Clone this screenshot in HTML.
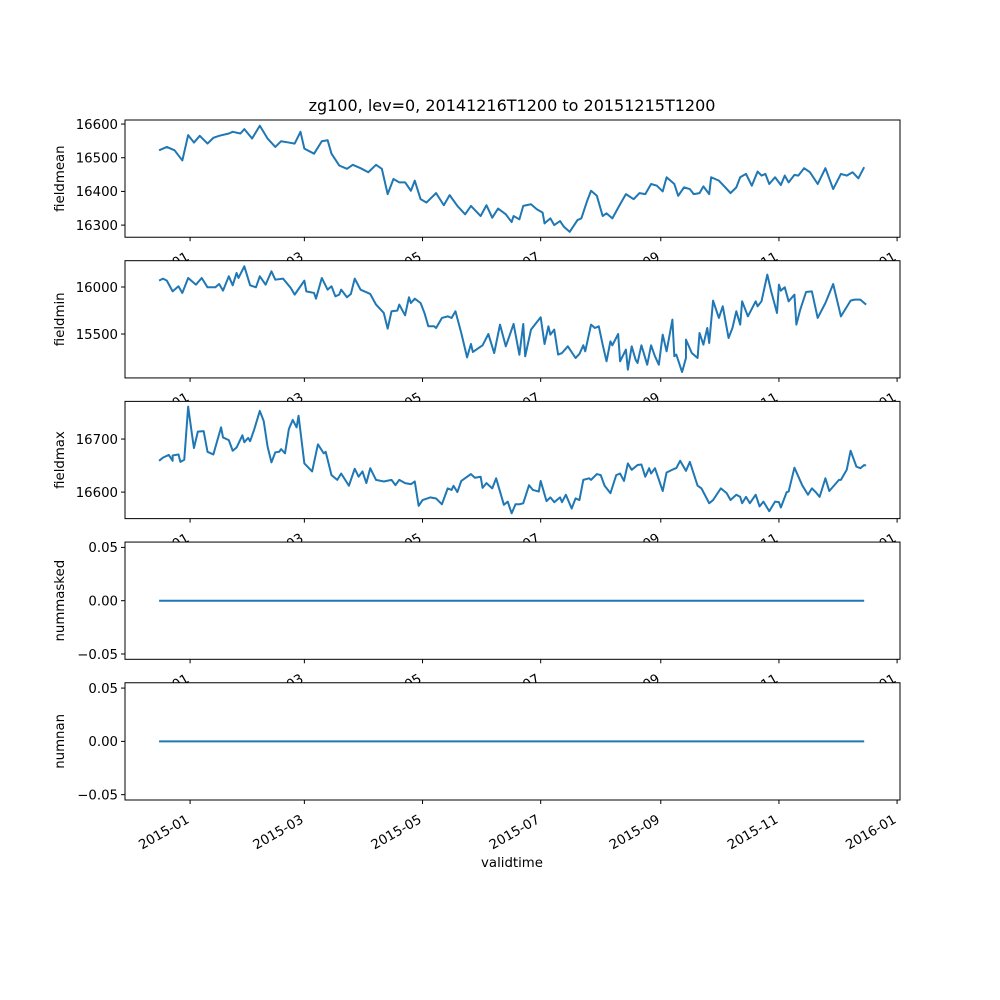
<!DOCTYPE html>
<html><head><meta charset="utf-8"><style>body{margin:0;background:#fff}svg{display:block}text{font-family:"DejaVu Sans","Liberation Sans",sans-serif;fill:#000}</style></head>
<body>
<svg id="chart" width="1000" height="1000" viewBox="0 0 1000 1000" xmlns="http://www.w3.org/2000/svg">
<rect width="1000" height="1000" fill="#fff"/>
<text x="512" y="111" font-size="16" text-anchor="middle">zg100, lev=0, 20141216T1200 to 20151215T1200</text>
<text x="512" y="867" font-size="13.3" text-anchor="middle">validtime</text>
</svg>
<script>
// x values are days relative to 2015-01-01
const meanDays=[-16,-12,-8,-4,-1,2,5,9,12,15,20,22,26,28,32,36,40,44,47,51,54,57,59,64,68,71,73,77,81,84,88,92,96,99,102,105,108,111,114,116,119,122,127,131,134,138,142,145,150,153,156,159,163,166,167,170,172,176,179,182,183,186,188,191,193,196,200,202,205,207,210,213,215,218,222,225,229,232,235,238,241,244,246,250,252,255,258,260,263,265,268,269,273,275,279,282,284,287,290,293,295,297,299,302,305,307,309,312,314,317,320,324,328,332,336,339,342,345,348];
const meanVals=[16522,16532,16522,16492,16567,16545,16565,16542,16559,16565,16572,16577,16572,16585,16557,16595,16557,16532,16549,16545,16542,16577,16527,16512,16549,16552,16512,16477,16467,16479,16469,16457,16479,16467,16392,16437,16427,16427,16402,16432,16377,16367,16395,16359,16389,16357,16332,16357,16327,16359,16322,16349,16332,16309,16327,16317,16357,16362,16347,16337,16305,16320,16300,16312,16295,16280,16315,16320,16372,16402,16387,16327,16335,16320,16362,16392,16377,16395,16392,16422,16417,16400,16442,16422,16387,16412,16407,16392,16395,16415,16392,16442,16432,16420,16395,16412,16442,16452,16417,16459,16447,16452,16422,16442,16419,16447,16427,16449,16447,16469,16457,16422,16469,16407,16452,16447,16457,16439,16472];
const minDays=[-16,-14,-12,-9,-6,-4,-1,3,6,9,13,15,17,20,22,24,25,28,31,34,36,39,42,44,48,52,54,59,60,64,65,68,71,73,75,77,78,81,83,85,88,93,96,100,102,104,107,108,111,113,114,116,119,121,123,126,127,130,133,135,137,140,143,145,146,149,151,154,157,160,163,167,170,172,173,176,181,183,185,186,188,190,192,195,199,201,203,204,207,209,211,213,215,217,218,221,222,225,226,228,230,231,233,236,238,240,242,244,246,249,250,251,254,256,256,259,262,263,265,267,268,270,273,275,278,280,282,284,285,288,292,293,295,298,300,303,304,305,307,309,312,313,315,318,321,324,328,332,336,341,343,346,349];
const minVals=[16068,16089,16068,15954,16008,15937,16096,16025,16096,15997,15997,16032,15961,16114,16018,16149,16096,16220,16018,15997,16114,16025,16167,16078,16089,15990,15919,16068,15954,15937,15876,16096,15972,16008,15901,15919,15972,15891,15926,16089,15972,15926,15813,15724,15557,15742,15749,15813,15699,15891,15830,15876,15830,15724,15582,15582,15564,15671,15688,15671,15742,15511,15252,15394,15309,15352,15380,15500,15298,15600,15369,15607,15280,15607,15263,15547,15678,15394,15582,15493,15547,15281,15298,15369,15245,15288,15380,15316,15600,15564,15582,15387,15210,15422,15380,15500,15210,15334,15121,15369,15227,15192,15380,15174,15380,15263,15174,15493,15316,15653,15263,15281,15096,15245,15440,15298,15245,15511,15387,15564,15405,15855,15671,15795,15458,15564,15742,15600,15848,15688,15848,15795,15848,16132,15954,15724,16025,15961,15997,15848,15919,15600,15759,15947,15954,15671,15830,16032,15688,15855,15866,15866,15813,15901];
const maxDays=[-16,-14,-11,-9,-9,-6,-5,-3,-1,1,2,4,7,9,12,16,17,20,22,24,27,28,30,31,33,36,38,40,42,44,46,47,49,51,53,55,56,59,63,66,69,70,73,76,78,82,85,87,89,91,93,96,100,104,106,108,111,114,116,118,120,124,127,130,133,135,136,138,140,145,147,150,151,153,156,158,162,164,166,168,170,172,175,177,180,181,184,186,188,191,192,194,197,199,201,203,206,207,210,212,214,217,220,222,224,226,228,231,233,235,237,238,240,244,246,250,251,253,256,258,262,264,268,270,274,277,279,282,284,285,287,289,292,294,296,299,302,304,305,308,309,312,316,319,321,323,325,328,330,335,336,339,341,344,346,348,349];
const maxVals=[16659,16665,16670,16659,16669,16671,16657,16661,16761,16708,16683,16714,16715,16676,16671,16722,16703,16698,16678,16684,16707,16694,16702,16696,16717,16753,16734,16686,16656,16675,16676,16681,16673,16719,16736,16722,16744,16654,16639,16690,16673,16676,16632,16623,16635,16612,16644,16629,16639,16617,16645,16623,16620,16623,16613,16623,16617,16615,16620,16574,16585,16590,16588,16577,16607,16604,16612,16600,16621,16634,16627,16629,16608,16617,16607,16626,16576,16582,16560,16577,16577,16579,16613,16604,16601,16621,16583,16590,16581,16590,16581,16595,16569,16588,16585,16623,16626,16623,16634,16632,16612,16598,16632,16635,16621,16654,16642,16651,16652,16629,16645,16635,16645,16602,16637,16644,16645,16659,16640,16657,16612,16607,16579,16585,16607,16598,16585,16595,16591,16579,16591,16579,16595,16573,16582,16564,16582,16581,16571,16600,16601,16646,16613,16595,16607,16600,16591,16626,16602,16623,16623,16642,16678,16648,16645,16651,16650];
const flatDays=[-16,348];
const flatVals=[0,0];
const tickDays=[0,59,120,181,243,304,365];
const tickLabels=["2015-01","2015-03","2015-05","2015-07","2015-09","2015-11","2016-01"];
const panelNames=["fieldmean","fieldmin","fieldmax","nummasked","numnan"];
const yLims=[[16264,16612],[15033,16280],[16550,16771],[-0.055,0.055],[-0.055,0.055]];
const yTicks=[[16300,16400,16500,16600],[15500,16000],[16600,16700],[-0.05,0,0.05],[-0.05,0,0.05]];
const yTickLabels=[["16300","16400","16500","16600"],["15500","16000"],["16600","16700"],["−0.05","0.00","0.05"],["−0.05","0.00","0.05"]];
const xLim=[-33.6,366.5];

const NS="http://www.w3.org/2000/svg";
const svg=document.getElementById('chart');
const L=125,R=900,TOP=120,PH=117.24,GAP=23.45;
function mk(tag,attrs,parent){const e=document.createElementNS(NS,tag);for(const k in attrs)e.setAttribute(k,attrs[k]);(parent||svg).appendChild(e);return e;}
function xs(d){return L+(d-xLim[0])/(xLim[1]-xLim[0])*(R-L);}
const series=[[meanDays,meanVals],[minDays,minVals],[maxDays,maxVals],[flatDays,flatVals],[flatDays,flatVals]];
for(let i=0;i<5;i++){
  const t=TOP+i*(PH+GAP),b=t+PH;
  const ys=v=>b-(v-yLims[i][0])/(yLims[i][1]-yLims[i][0])*PH;
  const g=mk('g',{});
  
  
  mk('rect',{x:L,y:t,width:R-L,height:PH,fill:'#fff'},g);
  const [dd,vv]=series[i];
  let p='';
  for(let k=0;k<dd.length;k++)p+=(k?'L':'M')+xs(dd[k]).toFixed(2)+' '+ys(vv[k]).toFixed(2);
  const line=mk('path',{d:p,fill:'none',stroke:'#1f77b4','stroke-width':2,'stroke-linejoin':'round'},g);
  
  
  mk('rect',{x:L,y:t,width:R-L,height:PH,fill:'none',stroke:'#000','stroke-width':1},g);
  for(let k=0;k<yTicks[i].length;k++){
    const y=ys(yTicks[i][k]);
    mk('line',{x1:L-4,x2:L,y1:y,y2:y,stroke:'#000'},g);
    const tx=mk('text',{x:L-7,y:y+4.8,'font-size':13.3,'text-anchor':'end'},g);
    tx.textContent=yTickLabels[i][k];
    
    
  }
  for(let k=0;k<tickDays.length;k++){
    const x=xs(tickDays[k]);
    mk('line',{x1:x,x2:x,y1:b,y2:b+4,stroke:'#000'},g);
    const ax=x,ay=b+22;
    const tx=mk('text',{x:ax,y:ay,'font-size':13.3,'text-anchor':'end',transform:`rotate(-30 ${ax} ${ay})`},g);
    tx.textContent=tickLabels[k];
    
    
  }
  const yl=mk('text',{x:64,y:(t+b)/2,'font-size':13.3,'text-anchor':'middle',transform:`rotate(-90 64 ${(t+b)/2})`},g);
  yl.textContent=panelNames[i];
  
  
}
</script>
</body></html>
